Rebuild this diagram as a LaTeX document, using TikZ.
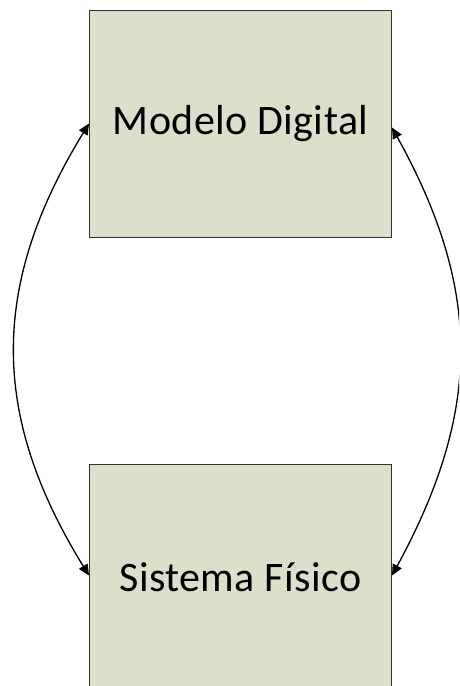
\documentclass[tikz,border=0pt]{standalone}
\usepackage{fontspec}
\setmainfont{Carlito}
\newfontfamily\labelfont[LetterSpace=1]{Carlito}
\usetikzlibrary{arrows.meta}
\definecolor{boxfill}{RGB}{220,224,202}
\tikzset{
  block/.style={draw=black!80, line width=1pt, fill=boxfill,
    minimum width=302pt, minimum height=227pt, inner sep=0pt,
    font=\labelfont\fontsize{42}{48}\selectfont},
  link/.style={line width=1.3pt, {Triangle[length=11pt,width=10pt]}-{Triangle[length=11pt,width=10pt]}}
}
\begin{document}
\begin{tikzpicture}[x=1pt,y=1pt]
  \useasboundingbox (0,0) rectangle (459,-686);
  \clip (0,0) rectangle (459,-686);
  \node[block] (digital) at (240.5,-123.5) {Modelo Digital};
  \node[block] (fisico)  at (240.5,-577.5) {Sistema Físico};
  % left loop between the two blocks
  \draw[link] (digital.west) .. controls (-10,-285) and (-10,-415) .. ([yshift=2pt]fisico.west);
  % right loop between the two blocks
  \draw[link] ([yshift=-4pt]digital.east) .. controls (482,-290) and (482,-410) .. ([yshift=2pt]fisico.east);
\end{tikzpicture}
\end{document}
